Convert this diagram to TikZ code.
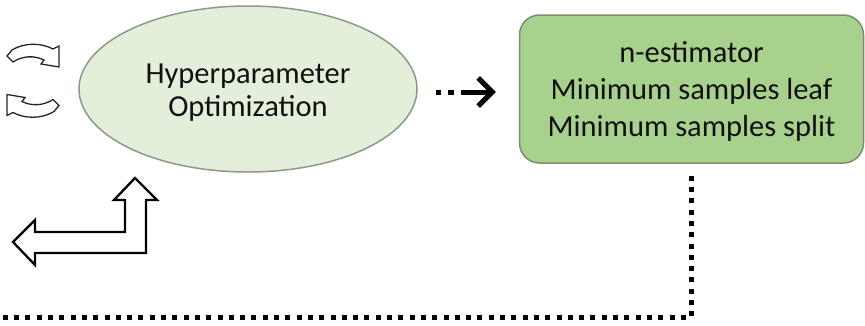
\documentclass[tikz,border=0pt]{standalone}
\usepackage{fontspec}
\setmainfont{Carlito}
\usetikzlibrary{shapes.geometric,arrows.meta}
\definecolor{ellfill}{HTML}{E3EFDA}
\definecolor{ellline}{HTML}{8E9A88}
\definecolor{boxfill}{HTML}{A9D18E}
\definecolor{boxline}{HTML}{7A8F70}
\definecolor{txt}{HTML}{111111}
\tikzset{
  hpostyle/.style={ellipse, draw=ellline, fill=ellfill, line width=1.5pt,
    minimum width=338pt, minimum height=166pt, inner sep=0pt, align=center, text=txt,
    font=\fontsize{30.5}{33}\selectfont},
  eststyle/.style={rectangle, rounded corners=20pt, draw=boxline, fill=boxfill, line width=1.5pt,
    minimum width=344pt, minimum height=148pt, inner sep=0pt, align=center, text=txt,
    font=\fontsize{30.5}{37}\selectfont},
  flowarrow/.style={line width=5pt, dash pattern=on 5pt off 7pt on 6pt off 7pt on 200pt,
    -{Straight Barb[length=14pt,width=28pt,line width=5pt]}},
  dotline/.style={line width=5pt, dash pattern=on 5pt off 6.3pt},
  blockarrow/.style={draw=black, line width=2.3pt, fill=white, line join=miter},
  curlarrow/.style={draw=black!85, line width=1.3pt, fill=white, line join=miter}
}
\begin{document}
\begin{tikzpicture}[x=1pt,y=-1pt]
\useasboundingbox (0,0) rectangle (865,325);
\node[hpostyle] (hpo) at (248,89) {\rule{0pt}{26pt}Hyperparameter\\Optimization};
\node[eststyle] (est) at (691.5,89) {\rule{0pt}{26pt}n-estimator\\Minimum samples leaf\\Minimum samples split};
\coordinate (dend) at (0,317);
% dashed arrow between nodes
\draw[flowarrow, shorten <=18pt, shorten >=23pt] ([yshift=-3pt]hpo.east) -- ([yshift=-3pt]est.west);
% dotted return line
\draw[dotline] ([yshift=-12pt]est.south) |- (dend);
% curved arrows
\def\curlpath{(-26,-0.5) -- (-21,-6.5) .. controls (-8,-14.5) and (9,-13.5) .. (20,-7.5)
  -- (26,-10.5) -- (26,10.5) -- (8,7.5) -- (11,3.5)
  .. controls (1,-1.5) and (-11,-0.5) .. (-20,5.5) -- cycle}
\begin{scope}[shift={(33,56.5)}]
  \draw[curlarrow] \curlpath;
\end{scope}
\begin{scope}[shift={(33,105)}, rotate=180]
  \draw[curlarrow] \curlpath;
\end{scope}
% L-shaped block arrow
\draw[blockarrow] (135,178) -- (157,200) -- (146,200) -- (146,253) -- (35,253) -- (35,265)
  -- (13,242) -- (35,220) -- (35,232) -- (125,232) -- (125,200) -- (114,200) -- cycle;
\end{tikzpicture}
\end{document}
